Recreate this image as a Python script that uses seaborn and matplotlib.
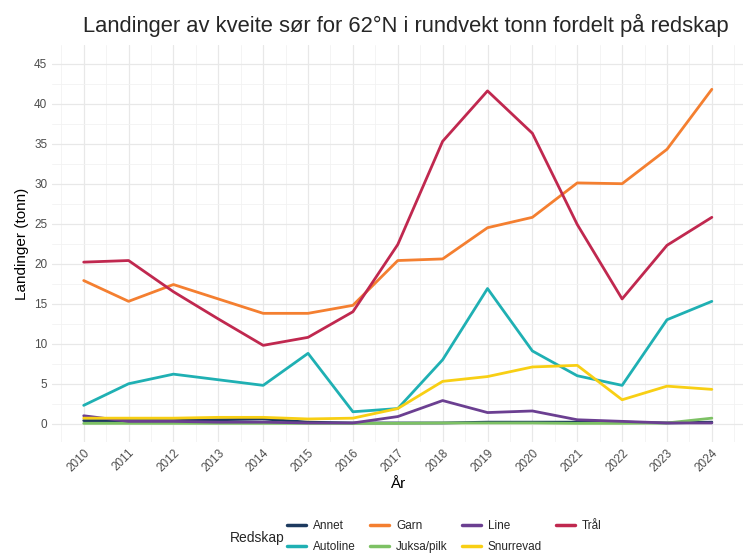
import numpy as np
import pandas as pd
import matplotlib
matplotlib.use("Agg")
import matplotlib.pyplot as plt
import seaborn as sns
from matplotlib.ticker import MultipleLocator

years = list(range(2010, 2025))

annet = [0.4, 0.4, 0.4, 0.5, 0.6, 0.2, 0.1, 0.1, 0.1, 0.2, 0.2, 0.2, 0.2, 0.1, 0.2]
autoline = [2.3, 5.0, 6.2, 5.5, 4.8, 8.8, 1.5, 1.9, 8.0, 16.9, 9.1, 6.0, 4.8, 13.0, 15.3]
garn = [17.9, 15.3, 17.4, 15.6, 13.8, 13.8, 14.8, 20.4, 20.6, 24.5, 25.8, 30.1, 30.0, 34.3, 41.8]
juksa = [0.05, 0.05, 0.05, 0.05, 0.05, 0.05, 0.05, 0.05, 0.1, 0.1, 0.1, 0.05, 0.05, 0.1, 0.7]
line = [1.0, 0.3, 0.3, 0.2, 0.2, 0.1, 0.1, 0.9, 2.9, 1.4, 1.6, 0.5, 0.3, 0.1, 0.1]
snurrevad = [0.7, 0.7, 0.7, 0.8, 0.8, 0.6, 0.7, 1.9, 5.3, 5.9, 7.1, 7.3, 3.0, 4.7, 4.3]
tral = [20.2, 20.4, 16.5, 13.1, 9.8, 10.8, 14.0, 22.4, 35.3, 41.6, 36.3, 24.9, 15.6, 22.3, 25.8]

gear_order = ["Annet", "Autoline", "Garn", "Juksa/pilk", "Line", "Snurrevad", "Trål"]
series = [annet, autoline, garn, juksa, line, snurrevad, tral]
colors = {
    "Annet": "#1d3a5f",
    "Autoline": "#1fb0b3",
    "Garn": "#f47f30",
    "Juksa/pilk": "#7dc164",
    "Line": "#6b3f91",
    "Snurrevad": "#f8cf14",
    "Trål": "#c0284f",
}

df = pd.DataFrame({
    "År": np.tile(years, len(gear_order)),
    "Landinger": np.concatenate(series),
    "Redskap": np.repeat(gear_order, len(years)),
})

sns.set_theme(style="whitegrid")
plt.rcParams["font.family"] = ["Liberation Sans", "DejaVu Sans"]

fig = plt.figure(figsize=(7.47, 5.59), dpi=100)
ax = fig.add_axes([0.07, 0.209, 0.925, 0.71])
ax.set_facecolor("white")

sns.lineplot(data=df, x="År", y="Landinger", hue="Redskap", hue_order=gear_order,
             palette=colors, linewidth=2.0, ax=ax, legend=False)

ax.set_xlim(2009.3, 2024.7)
ax.set_ylim(-2.3, 47.3)
ax.set_xticks(years)
ax.xaxis.set_minor_locator(MultipleLocator(0.5))
ax.yaxis.set_major_locator(MultipleLocator(5))
ax.yaxis.set_minor_locator(MultipleLocator(2.5))
ax.grid(which="major", color="#e8e8e8", linewidth=0.9)
ax.grid(which="minor", color="#f2f2f2", linewidth=0.6)
ax.tick_params(which="both", length=0)
for s in ax.spines.values():
    s.set_visible(False)

ax.set_xticklabels([str(y) for y in years], rotation=45, ha="right",
                   rotation_mode="anchor", fontsize=8.5, color="#4d4d4d")
for t in ax.get_yticklabels():
    t.set_fontsize(8.5)
    t.set_color("#4d4d4d")

ax.set_xlabel("År", fontsize=11, color="black", labelpad=2)
ax.set_ylabel("Landinger (tonn)", fontsize=11, color="black")
fig.text(0.543, 0.955, "Landinger av kveite sør for 62°N i rundvekt tonn fordelt på redskap",
         ha="center", va="center", fontsize=15.8)

handles = [plt.Line2D([], [], color=colors[g], linewidth=2.5) for g in gear_order]
fig.legend(handles, gear_order, ncol=4, loc="center left", bbox_to_anchor=(0.37, 0.04),
           frameon=False, fontsize=8.5, handlelength=1.6, columnspacing=1.2,
           labelspacing=0.8, handletextpad=0.6)
fig.text(0.345, 0.038, "Redskap", ha="center", va="center", fontsize=10)

fig.savefig("out.png", dpi=100)
